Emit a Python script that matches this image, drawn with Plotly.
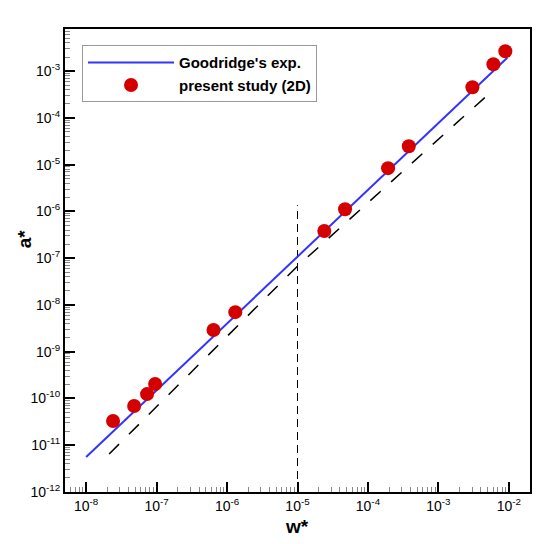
import plotly.graph_objects as go

# Goodridge's experimental correlation (end points of straight line in log-log)
good_w = [1.0e-8, 9.5e-3]
good_a = [5.6e-12, 1.92e-3]

# present study (2D) points
pts_w = [2.41e-8, 4.80e-8, 7.33e-8, 9.53e-8, 6.43e-7, 1.31e-6,
         2.40e-5, 4.73e-5, 1.93e-4, 3.80e-4, 3.04e-3, 6.03e-3, 8.91e-3]
pts_a = [3.3e-11, 6.9e-11, 1.24e-10, 2.04e-10, 2.9e-9, 7.0e-9,
         3.8e-7, 1.11e-6, 8.4e-6, 2.47e-5, 4.5e-4, 1.40e-3, 2.65e-3]

# reference dashed correlation (kinked at w* = 1e-5)
ref_w = [2.12e-8, 1.0e-5, 5.98e-3]
ref_a = [6.49e-12, 6.75e-8, 3.93e-4]

# vertical dashed marker line
vert_w = [1e-5, 1e-5]
vert_a = [1e-12, 1.36e-6]

x_exps = [-8, -7, -6, -5, -4, -3, -2]
y_exps = [-12, -11, -10, -9, -8, -7, -6, -5, -4, -3]
x_ticks = [10.0 ** k for k in x_exps]
y_ticks = [10.0 ** k for k in y_exps]
x_labels = ["10<sup>%d</sup>" % k for k in x_exps]
y_labels = ["10<sup>%d</sup>" % k for k in y_exps]

FONT = "Liberation Sans, Arial, sans-serif"

fig = go.Figure()
fig.add_trace(go.Scatter(x=ref_w, y=ref_a, mode="lines", showlegend=False,
                         line=dict(color="black", width=1.5, dash="14px,14px")))
fig.add_trace(go.Scatter(x=vert_w, y=vert_a, mode="lines", showlegend=False,
                         line=dict(color="black", width=1, dash="8px,5px")))
fig.add_trace(go.Scatter(x=good_w, y=good_a, mode="lines", name="Goodridge's exp.",
                         line=dict(color="#3333ff", width=2)))
fig.add_trace(go.Scatter(x=pts_w, y=pts_a, mode="markers", name="present study (2D)",
                         marker=dict(color="#d40000", size=14, line=dict(width=0))))

axis_common = dict(
    type="log", showgrid=False, zeroline=False, automargin=False,
    showline=True, linecolor="black", linewidth=2, mirror=True,
    ticks="inside", ticklen=10, tickwidth=2, tickcolor="black",
    tickfont=dict(family=FONT, size=14, color="black"),
    minor=dict(ticks="inside", ticklen=5, tickcolor="#888888", tickwidth=1, dtick="D1", showgrid=False),
)

fig.update_xaxes(**axis_common, range=[-8.3, -1.7], tickmode="array",
                 tickvals=x_ticks, ticktext=x_labels)
fig.update_yaxes(**axis_common, range=[-12, -2.1], tickmode="array",
                 tickvals=y_ticks, ticktext=y_labels)

title_font = dict(family=FONT, size=19, color="black", weight="bold")
fig.add_annotation(text="w*", xref="paper", yref="paper", x=0.499, y=-0.074,
                   xanchor="center", yanchor="middle", showarrow=False, font=title_font)
fig.add_annotation(text="a*", xref="paper", yref="paper", x=-0.088, y=0.546,
                   xanchor="center", yanchor="middle", showarrow=False, textangle=-90,
                   font=title_font)

fig.update_layout(
    width=528, height=528,
    margin=dict(l=57, r=6, t=21, b=44),
    paper_bgcolor="white", plot_bgcolor="white",
    legend=dict(x=0.0366, y=0.965, xanchor="left", yanchor="top",
                bgcolor="white", bordercolor="#999999", borderwidth=1,
                itemwidth=86, tracegroupgap=0,
                font=dict(family=FONT, size=15, color="black", weight="bold")),
)

fig.write_html("out.html")
